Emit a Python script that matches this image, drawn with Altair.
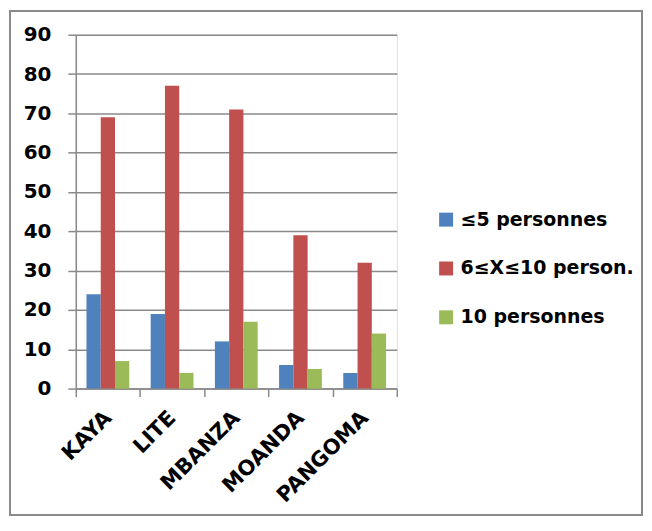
import altair as alt
import pandas as pd

categories = ["KAYA", "LITE", "MBANZA", "MOANDA", "PANGOMA"]
series = ["≤5 personnes", "6≤X≤10 person.", "10 personnes"]
small = [24, 19, 12, 6, 4]
medium = [69, 77, 71, 39, 32]
large = [7, 4, 17, 5, 14]
colors = ["#4F81BD", "#C0504D", "#9BBB59"]
y_ticks = list(range(0, 91, 10))

rows = []
for s, vals in zip(series, [small, medium, large]):
    for c, v in zip(categories, vals):
        rows.append({"site": c, "groupe": s, "valeur": v})
df = pd.DataFrame(rows)

FONT = "DejaVu Sans"
GRAY = "#8a8a8a"

bars = alt.Chart(df).mark_bar().encode(
    x=alt.X("site:N", sort=categories,
            scale=alt.Scale(paddingInner=0, paddingOuter=0),
            axis=alt.Axis(title=None, labelAngle=315, labelAlign="right",
                          labelBaseline="middle", labelPadding=18,
                          labelFont=FONT, labelFontSize=21, labelFontWeight="bold",
                          labelColor="black", tickBand="extent", tickSize=8,
                          tickColor=GRAY, tickWidth=1.5, domainColor=GRAY,
                          domainWidth=1.5, grid=False)),
    xOffset=alt.XOffset("groupe:N", sort=series,
                        scale=alt.Scale(paddingInner=0, paddingOuter=0.75)),
    y=alt.Y("valeur:Q", scale=alt.Scale(domain=[0, 90]),
            axis=alt.Axis(title=None, values=y_ticks, labelFont=FONT,
                          labelFontSize=20, labelFontWeight="bold",
                          labelColor="black", labelPadding=17, tickSize=8,
                          tickColor=GRAY, tickWidth=1.5, domainColor=GRAY,
                          domainWidth=1.5, gridColor=GRAY, gridWidth=1.5)),
    color=alt.Color("groupe:N", sort=series,
                    scale=alt.Scale(domain=series, range=colors),
                    legend=alt.Legend(title=None, orient="none", legendX=362,
                                      legendY=176, symbolType="square",
                                      symbolSize=196, symbolStrokeWidth=0,
                                      labelFont=FONT, labelFontSize=19,
                                      labelFontWeight="bold", labelColor="black",
                                      labelOffset=5, rowPadding=29,
                                      labelLimit=300, padding=0)),
)

frame = alt.Chart(df).mark_rect(fill=None, stroke=GRAY, strokeWidth=1.5).encode(
    x=alt.value(-66), x2=alt.value(568), y=alt.value(-24), y2=alt.value(482)
)

chart = alt.layer(frame, bars).properties(
    width=322, height=355, padding=1
).configure_view(stroke=None).configure(background="white")

chart.save("out.html", embed_options={"renderer": "svg", "actions": False})
